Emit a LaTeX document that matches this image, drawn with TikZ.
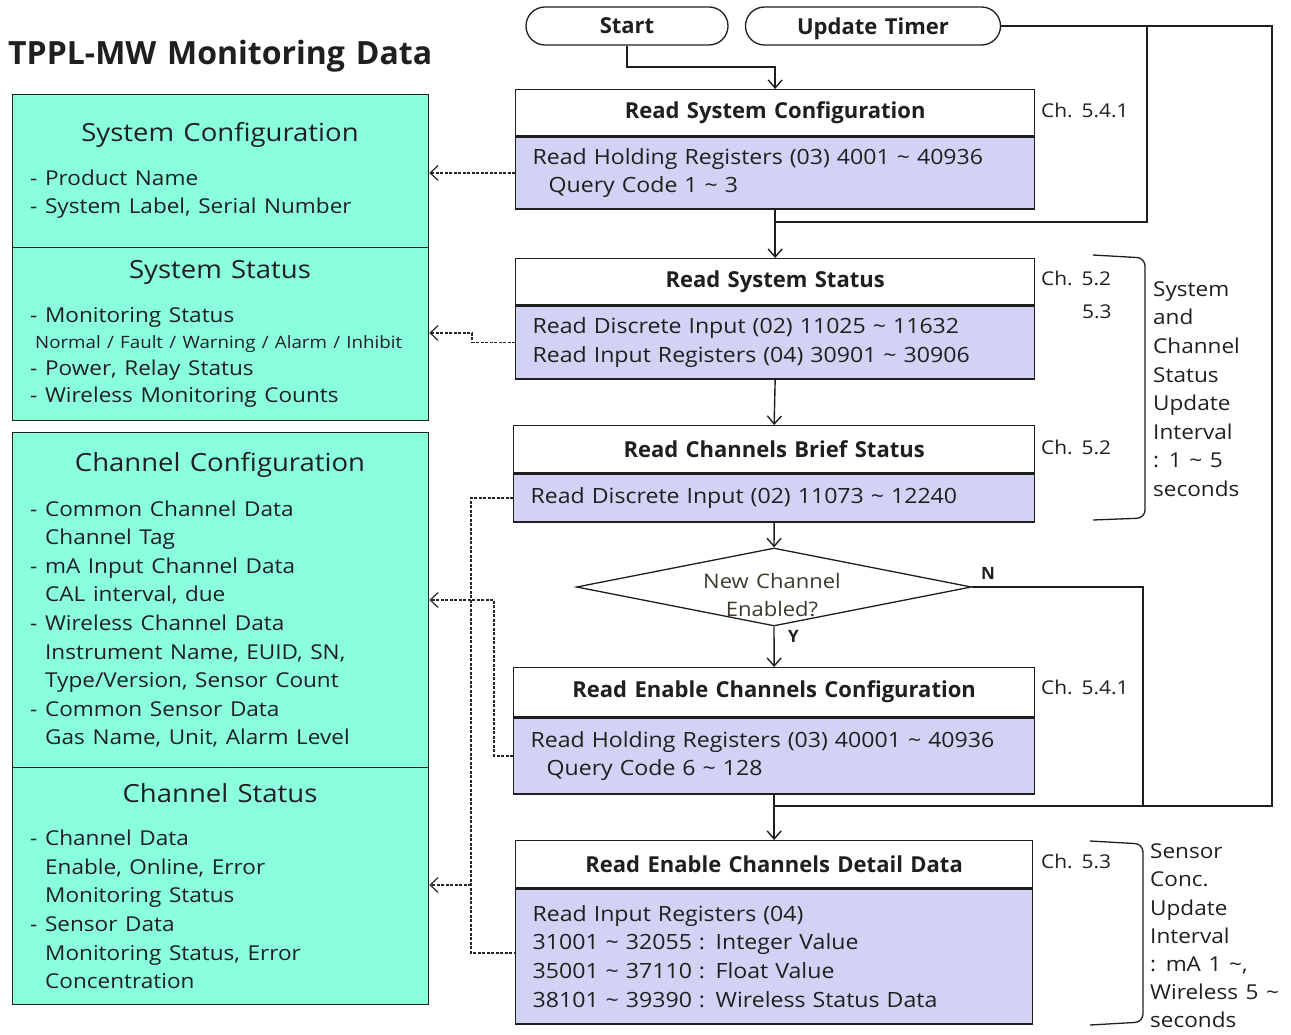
\documentclass[tikz,border=0pt]{standalone}
\usepackage{fontspec}
\setmainfont{Open Sans}[FakeStretch=1.1, WordSpace=1.3]
\newfontfamily\bfam{Open Sans}[WordSpace=1.3]
\usetikzlibrary{shapes.geometric,arrows.meta,calc}
\definecolor{panelfill}{RGB}{138,255,220}
\definecolor{bodyfill}{RGB}{210,210,244}
\definecolor{linec}{RGB}{30,30,30}
\newcommand{\tld}{\textasciitilde}
\tikzset{
  every node/.style={font=\fontsize{21}{28.6}\selectfont, text=black!88},
  panel/.style={draw=linec, line width=1.3pt, fill=panelfill, anchor=north west, inner sep=0},
  ptitle/.style={font=\fontsize{25}{30}\selectfont},
  plist/.style={anchor=west, align=left, inner sep=0, font=\fontsize{20.5}{28.6}\selectfont},
  hdr/.style={draw=linec, line width=1.3pt, fill=white, font=\bfam\bfseries\fontsize{22}{26}\selectfont, inner sep=0, anchor=north west},
  bodybox/.style={draw=linec, line width=1.3pt, fill=bodyfill, anchor=north west, inner xsep=17pt, inner ysep=0, align=left},
  term/.style={draw=linec, line width=1.3pt, fill=white, rounded corners=19pt, minimum height=38, inner sep=0, text depth=0pt, font=\bfam\bfseries\fontsize{22}{26}\selectfont},
  chlab/.style={anchor=west, inner sep=0, font=\fontsize{19}{24}\selectfont},
  flow/.style={draw=linec, line width=1.4pt, -{Straight Barb[length=8pt,width=14pt]}},
  fline/.style={draw=linec, line width=1.4pt},
  darrow/.style={draw=black!85, line width=1.2pt, dash pattern=on 3pt off 1.5pt, -{Straight Barb[length=8pt,width=15pt]}},
  dline/.style={draw=black!85, line width=1.2pt, dash pattern=on 3pt off 1.5pt},
  brace/.style={draw=linec, line width=1.3pt, rounded corners=8pt},
}
\begin{document}
\begin{tikzpicture}[x=1pt,y=-1pt]
\useasboundingbox (0,0) rectangle (1291,1035);
% title
\node[anchor=west, inner sep=0, font=\bfam\bfseries\fontsize{32}{36}\selectfont] (title) at (8,56) {TPPL-MW Monitoring Data};
% left panels
\node[panel, minimum width=416, minimum height=153] (sysconf) at (12,94) {};
\node[panel, minimum width=416, minimum height=173] (sysstat) at (12,247) {};
\node[panel, minimum width=416, minimum height=335] (chconf) at (12,432) {};
\node[panel, minimum width=416, minimum height=237] (chstat) at (12,767) {};
\node[ptitle] (t1) at (220,135) {System Configuration};
\node[plist] (l1) at (30,194) {- Product Name\\- System Label, Serial Number};
\node[ptitle] (t2) at (220,272) {System Status};
\node[plist, font=\fontsize{20.5}{26.7}\selectfont] (l2) at (30,357) {- Monitoring Status\\{\fontsize{17}{26.7}\selectfont\hspace*{5pt}Normal / Fault / Warning / Alarm / Inhibit}\\- Power, Relay Status\\- Wireless Monitoring Counts};
\node[ptitle] (t3) at (220,465) {Channel Configuration};
\node[plist] (l3) at (30,624) {- Common Channel Data\\\hspace*{15pt}Channel Tag\\- mA Input Channel Data\\\hspace*{15pt}CAL interval, due\\- Wireless Channel Data\\\hspace*{15pt}Instrument Name, EUID, SN,\\\hspace*{15pt}Type/Version, Sensor Count\\- Common Sensor Data\\\hspace*{15pt}Gas Name, Unit, Alarm Level};
\node[ptitle] (t4) at (220,793) {Channel Status};
\node[plist] (l4) at (30,909.5) {- Channel Data\\\hspace*{15pt}Enable, Online, Error\\\hspace*{15pt}Monitoring Status\\- Sensor Data\\\hspace*{15pt}Monitoring Status, Error\\\hspace*{15pt}Concentration};
% terminals
\node[term, minimum width=202] (start) at (627,26) {Start};
\node[term, minimum width=255] (timer) at (873,26) {Update Timer};
% flow boxes
\node[hdr, minimum width=519, minimum height=46] (rsc) at (515,89) {Read System Configuration};
\node[bodybox, minimum height=72, text width=485] (rscb) at (rsc.south west) {Read Holding Registers (03) 4001 \tld\ 40936\\\hspace*{16pt}Query Code 1 \tld\ 3};
\node[hdr, minimum width=519, minimum height=46] (rss) at (515,258) {Read System Status};
\node[bodybox, minimum height=73, text width=485] (rssb) at (rss.south west) {Read Discrete Input (02) 11025 \tld\ 11632\\Read Input Registers (04) 30901 \tld\ 30906};
\node[hdr, minimum width=521, minimum height=47] (rcb) at (513,425) {Read Channels Brief Status};
\node[bodybox, minimum height=48, text width=487] (rcbb) at (rcb.south west) {Read Discrete Input (02) 11073 \tld\ 12240};
\node[diamond, draw=linec, line width=1.3pt, fill=white, aspect=5, minimum width=395, minimum height=78, inner sep=0] (dec) at (774,587) {};
\node[align=center, inner sep=0, font=\fontsize{20}{28}\selectfont, text=black!75!olive] (dectext) at (772,595) {New Channel\\Enabled?};
\node[hdr, minimum width=521, minimum height=49] (rec) at (513,667) {Read Enable Channels Configuration};
\node[bodybox, minimum height=76, text width=487] (recb) at (rec.south west) {Read Holding Registers (03) 40001 \tld\ 40936\\\hspace*{16pt}Query Code 6 \tld\ 128};
\node[hdr, minimum width=517, minimum height=47] (red) at (515,840) {Read Enable Channels Detail Data};
\node[bodybox, minimum height=135, text width=483] (redb) at (red.south west) {Read Input Registers (04)\\31001 \tld\ 32055 : Integer Value\\35001 \tld\ 37110 : Float Value\\38101 \tld\ 39390 : Wireless Status Data};
\draw[linec, line width=2.5pt] (red.south west) -- (red.south east);
% chapter labels
\node[chlab] (ch1) at (1041,110) {Ch. 5.4.1};
\node[chlab] (ch2) at (1041,278) {Ch. 5.2};
\node[chlab] (ch3) at (1082,312) {5.3};
\node[chlab] (ch4) at (1041,447) {Ch. 5.2};
\node[chlab] (ch5) at (1041,687) {Ch. 5.4.1};
\node[chlab] (ch6) at (1041,861) {Ch. 5.3};
% braces
\draw[brace] (1093,255) -- (1145,258) -- (1145,518) -- (1093,520);
\node[plist] (bt1) at (1153,389) {System\\and\\Channel\\Status\\Update\\Interval\\: 1 \tld\ 5\\seconds};
\draw[brace] (1090,841) -- (1143,844) -- (1143,1022) -- (1090,1025);
\node[plist, font=\fontsize{20.5}{28.2}\selectfont] (bt2) at (1150,936) {Sensor\\Conc.\\Update\\Interval\\: mA 1 \tld,\\Wireless 5 \tld\\seconds};
% coordinates
\coordinate (c1) at (627,67);
\coordinate (tA) at (1147,26);
\coordinate (tB) at (1272,26);
\coordinate (j1) at (774,222);
\coordinate (j2) at (774,806);
\coordinate (n1) at (1143,806);
\coordinate (d2) at (472,333);
\coordinate (v1) at (471,497);
\coordinate (v2) at (471,953);
\coordinate (v3) at (471,885);
\coordinate (w1) at (494,600);
% solid connectors
\draw[flow] (start.south) -- (c1) -| (rsc.north);
\draw[fline] (timer.east) -- (tB) |- (j2);
\draw[fline] (tA) |- (j1);
\draw[flow] (rscb.south) -- (rss.north);
\draw[flow] (rssb.south) -- (rcb.north);
\draw[flow] (rcbb.south) -- (dec.north);
\draw[flow] (dec.south) -- (rec.north);
\node[anchor=west, inner sep=0, font=\bfam\bfseries\fontsize{17}{20}\selectfont] (ylab) at (788,636) {Y};
\draw[fline] (dec.east) -| (n1) -- (j2);
\node[anchor=west, inner sep=0, font=\bfam\bfseries\fontsize{17}{20}\selectfont] (nlab) at (981,573) {N};
\draw[flow] (recb.south) -- (red.north);
% dashed connectors
\draw[darrow] (rscb.west) -- (sysconf.east |- rscb.west);
\draw[darrow] (rssb.west) -- (rssb.west -| d2) -- (d2) -- (sysstat.east |- d2);
\draw[dline] (rcbb.west) -- (rcbb.west -| v1) -- (v2) -- (redb.west |- v2);
\draw[darrow] (v3) -- (chstat.east |- v3);
\draw[darrow] (recb.west) -- (recb.west -| w1) -- (w1) -- (chconf.east |- w1);
\end{tikzpicture}
\end{document}
